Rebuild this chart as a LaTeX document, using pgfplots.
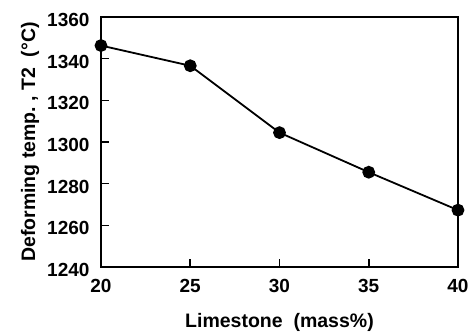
\documentclass[border=0pt]{standalone}
\usepackage{pgfplots}
\pgfplotsset{compat=1.18}
\usepackage{fontspec}
\setmainfont{Liberation Sans}
\begin{document}
\begin{tikzpicture}
\begin{axis}[
  scale only axis,
  width=357pt, height=250pt,
  xmin=20, xmax=40, ymin=1240, ymax=1360,
  xtick={20,25,30,35,40},
  ytick={1240,1260,1280,1300,1320,1340,1360},
  tick align=inside,
  xtick pos=bottom, ytick pos=left,
  major tick length=8pt,
  every tick/.style={black, line width=1.6pt},
  axis line style={line width=2.6pt},
  /pgf/number format/assume math mode=true,
  /pgf/number format/1000 sep={},
  tick label style={font=\fontsize{19}{22}\selectfont\bfseries},
  yticklabel style={xshift=-8pt, yshift=-3pt},
  xticklabel style={yshift=-9pt},
  label style={font=\fontsize{19.5}{22}\selectfont\bfseries},
  xlabel={Limestone\ \ (mass\%)},
  ylabel={Deforming temp.\ , T2\ \ (°C)},
  xlabel style={yshift=-13pt},
  ylabel style={yshift=1pt},
  clip=false,
]
\addplot[black, line width=1.8pt, mark=*, mark size=5.5pt, mark options={solid}]
coordinates {(20,1346.3) (25,1336.6) (30,1304.5) (35,1285.5) (40,1267.3)};
\coordinate (ll) at (rel axis cs:0,0);
\coordinate (ur) at (rel axis cs:1,1);
\end{axis}
\pgfresetboundingbox
\path ([shift={(-101pt,-66pt)}]ll) rectangle ([shift={(10pt,17pt)}]ur);
\end{tikzpicture}
\end{document}
